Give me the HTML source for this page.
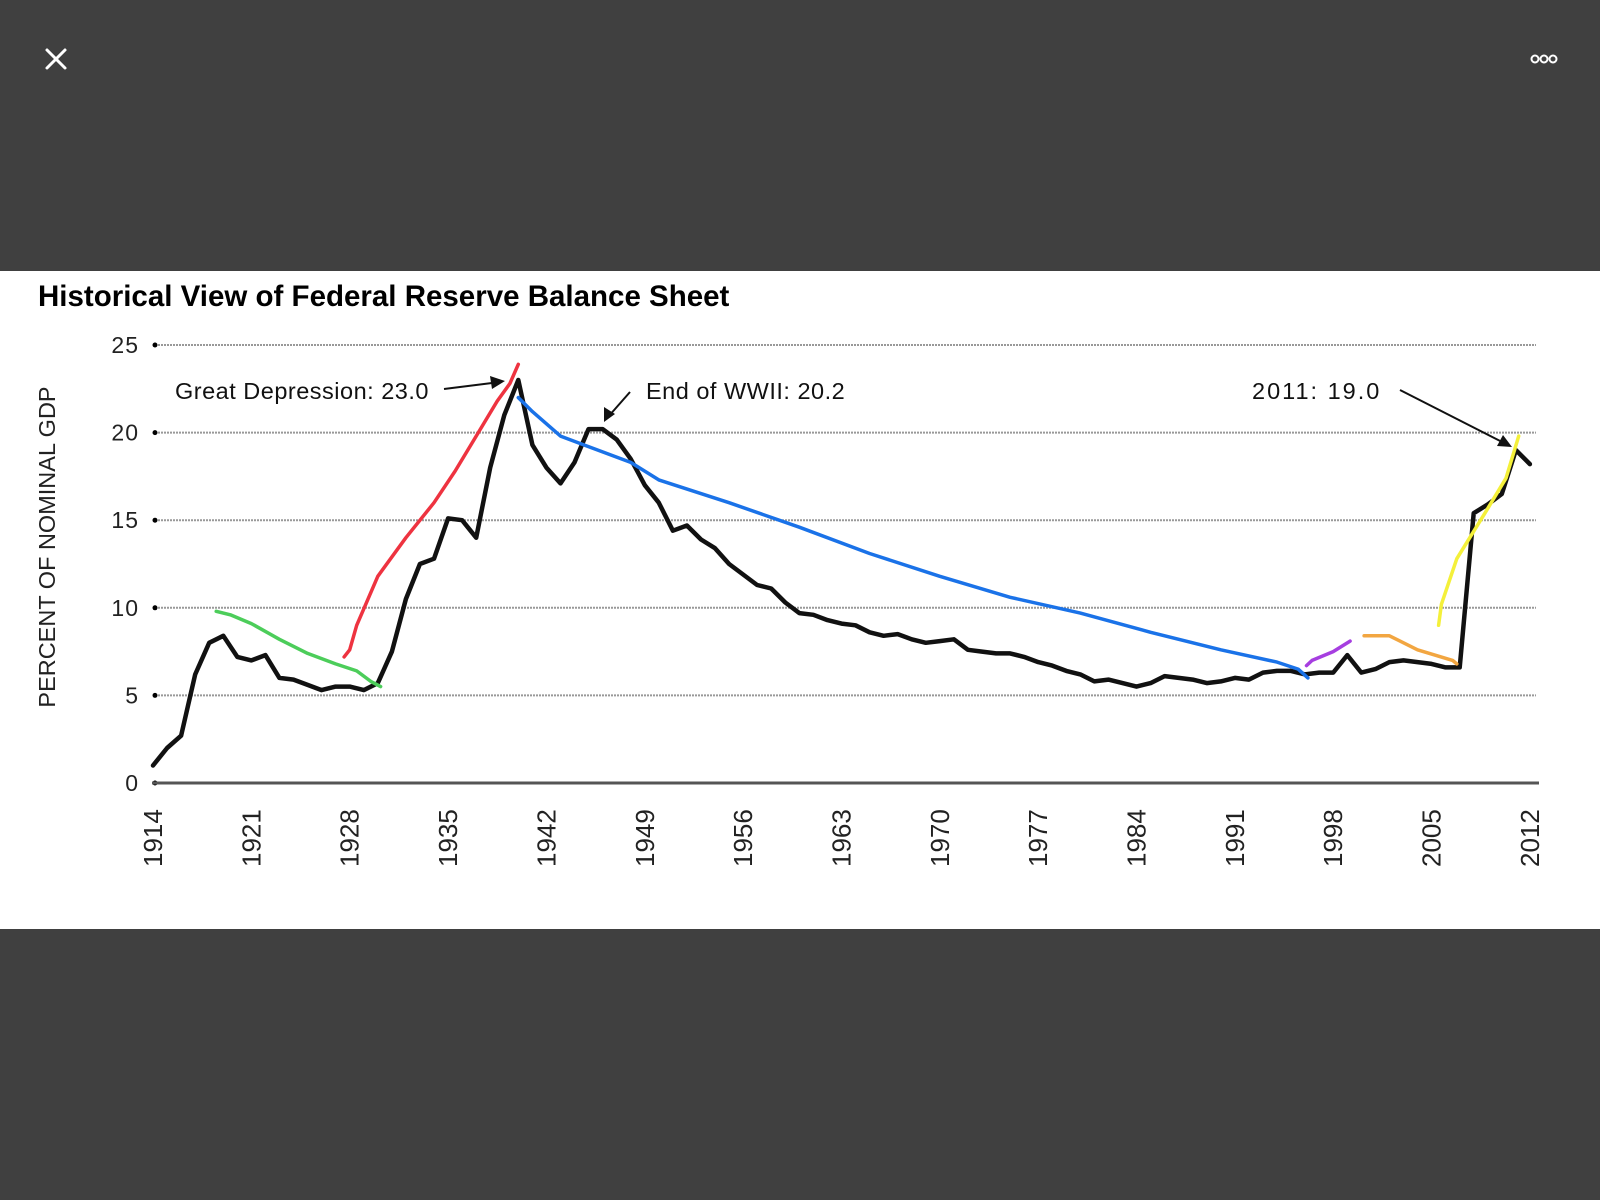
<!DOCTYPE html>
<html><head><meta charset="utf-8"><style>
html,body{margin:0;padding:0;width:1600px;height:1200px;background:#404040;overflow:hidden;font-family:"Liberation Sans",sans-serif}
</style></head><body>
<svg width="1600" height="1200" viewBox="0 0 1600 1200" xmlns="http://www.w3.org/2000/svg">
<rect x="0" y="0" width="1600" height="1200" fill="#404040"/>
<g stroke="#fff" stroke-width="3" stroke-linecap="round">
<line x1="47" y1="50" x2="65" y2="68"/><line x1="65" y1="50" x2="47" y2="68"/></g>
<g fill="none" stroke="#fff" stroke-width="2">
<circle cx="1535" cy="59" r="3.5"/><circle cx="1544" cy="59" r="3.5"/><circle cx="1553" cy="59" r="3.5"/></g>
<rect x="0" y="271" width="1600" height="658" fill="#fff"/>
<text x="38" y="306" font-size="29.5" font-weight="bold" fill="#000">Historical View of Federal Reserve Balance Sheet</text>
<text transform="translate(55,547) rotate(-90)" text-anchor="middle" font-size="23.5" fill="#222">PERCENT OF NOMINAL GDP</text>
<g id="grid"></g><g id="axes"></g><g id="series"></g>
<g font-size="23.5" fill="#111" letter-spacing="0.5">
<text x="175" y="399">Great Depression: 23.0</text>
<text x="646" y="399">End of WWII: 20.2</text>
<text x="1252" y="399" letter-spacing="2">2011: 19.0</text>
<g stroke="#111" stroke-width="2" fill="none">
<line x1="444" y1="389" x2="500" y2="382"/><line x1="630" y1="392" x2="608" y2="417"/><line x1="1400" y1="390" x2="1508" y2="445"/></g>
<polygon points="505,381 490,376 492,389" fill="#111"/>
<polygon points="604,422 604,407 615,414" fill="#111"/>
<polygon points="1512,447 1497,446 1503,435" fill="#111"/>
</g>
</svg>
<script>
const years=[];for(let y=1914;y<=2012;y++)years.push(y);
const values=[1.0,2.0,2.7,6.2,8.0,8.4,7.2,7.0,7.3,6.0,5.9,5.6,5.3,5.5,5.5,5.3,5.7,7.5,10.5,12.5,12.8,15.1,15.0,14.0,18.0,21.0,23.0,19.3,18.0,17.1,18.3,20.2,20.2,19.6,18.5,17.0,16.0,14.4,14.7,13.9,13.4,12.5,11.9,11.3,11.1,10.3,9.7,9.6,9.3,9.1,9.0,8.6,8.4,8.5,8.2,8.0,8.1,8.2,7.6,7.5,7.4,7.4,7.2,6.9,6.7,6.4,6.2,5.8,5.9,5.7,5.5,5.7,6.1,6.0,5.9,5.7,5.8,6.0,5.9,6.3,6.4,6.4,6.2,6.3,6.3,7.3,6.3,6.5,6.9,7.0,6.9,6.8,6.6,6.6,15.4,15.9,16.5,19.0,18.2];
const yTicks=[0,5,10,15,20,25];
const xTickLabels=[1914,1921,1928,1935,1942,1949,1956,1963,1970,1977,1984,1991,1998,2005,2012];
const greenYears=[1918.5,1919.5,1921,1923,1925,1927,1928.5,1929.5,1930.2];
const greenVals=[9.8,9.6,9.1,8.2,7.4,6.8,6.4,5.8,5.5];
const redYears=[1927.6,1928,1928.5,1930,1932,1934,1935.5,1937,1938.5,1939.4,1940];
const redVals=[7.2,7.6,9.0,11.8,14.0,16.0,17.8,19.8,21.8,22.8,23.9];
const blueYears=[1940,1941,1943,1945,1948,1950,1955,1960,1965,1970,1975,1980,1985,1990,1994,1995.5,1996.2];
const blueVals=[22.0,21.2,19.8,19.2,18.3,17.3,16.0,14.6,13.1,11.8,10.6,9.7,8.6,7.6,6.9,6.5,6.0];
const purpleYears=[1996.1,1996.5,1998,1999.2];
const purpleVals=[6.7,7.0,7.5,8.1];
const orangeYears=[2000.2,2002,2004,2006.5,2006.8];
const orangeVals=[8.4,8.4,7.6,7.0,6.8];
const yellowYears=[2005.5,2005.7,2006.8,2008.8,2010.3,2011.2];
const yellowVals=[9.0,10.2,12.8,15.4,17.4,19.8];
const NS='http://www.w3.org/2000/svg';
const xs=y=>153+(y-1914)*14.05, ys=v=>783-v*17.52;
function mk(tag,attrs,parent){const e=document.createElementNS(NS,tag);for(const k in attrs)e.setAttribute(k,attrs[k]);document.getElementById(parent).appendChild(e);return e;}
yTicks.forEach(t=>{
 if(t>0){const g=mk('line',{x1:158,x2:1536,y1:ys(t),y2:ys(t),stroke:'#999','stroke-width':2,'stroke-dasharray':'2 1'},'grid');
 
 }
 const d=mk('circle',{cx:155,cy:ys(t),r:2.5,fill:'#000'},'axes');
 
 
 const l=mk('text',{x:139,y:ys(t)+8,'text-anchor':'end','font-size':23,fill:'#222','letter-spacing':1},'axes');l.textContent=t;
 
 
});
const ax=mk('line',{x1:152,x2:1539,y1:ys(0),y2:ys(0),stroke:'#555','stroke-width':3},'axes');


xTickLabels.forEach(yr=>{
 const t=mk('text',{transform:`translate(${xs(yr)+9},867) rotate(-90)`,'font-size':26,fill:'#222'},'axes');t.textContent=yr;
 
 
});
function line(xa,va,color,w,name){
 const d=xa.map((x,i)=>(i?'L':'M')+xs(x).toFixed(1)+' '+ys(va[i]).toFixed(1)).join(' ');
 const p=mk('path',{d,fill:'none',stroke:color,'stroke-width':w,'stroke-linejoin':'round','stroke-linecap':'round'},'series');
 
 
}
line(years,values,'#111',4.5,'balance-sheet-line');
line(greenYears,greenVals,'#4ccd5a',3.5,'green-trend-stroke');
line(redYears,redVals,'#ee3340',3.5,'red-trend-stroke');
line(blueYears,blueVals,'#1a72e8',3.5,'blue-trend-stroke');
line(purpleYears,purpleVals,'#a63ee0',3.5,'purple-trend-stroke');
line(orangeYears,orangeVals,'#f2a641',3.5,'orange-trend-stroke');
line(yellowYears,yellowVals,'#f4f03a',3.5,'yellow-trend-stroke');
</script>
</body></html>
